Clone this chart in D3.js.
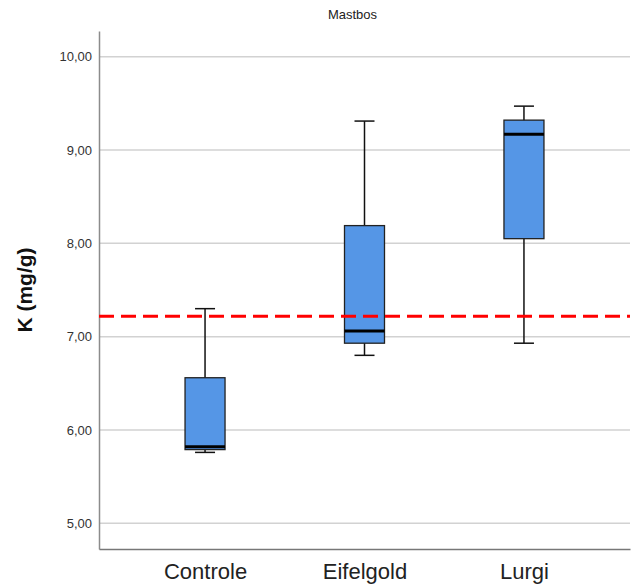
<!DOCTYPE html>
<html>
<head>
<meta charset="utf-8">
<script src="https://cdn.jsdelivr.net/npm/d3@7"></script>
<style>
  body { margin: 0; background: #fff; }
  text { font-family: "Liberation Sans", Arial, sans-serif; }
</style>
</head>
<body>
<div id="canvas"></div>
<script>
// data
const groups = ["Controle", "Eifelgold", "Lurgi"];
const mins    = [5.76, 6.80, 6.93];
const q1s     = [5.79, 6.93, 8.05];
const medians = [5.82, 7.06, 9.17];
const q3s     = [6.56, 8.19, 9.32];
const maxs    = [7.30, 9.31, 9.47];
const yTicks = [5, 6, 7, 8, 9, 10];
const refLine = 7.22;

const margin = { top: 31, right: 3, bottom: 35, left: 99 },
    width = 633 - margin.left - margin.right,
    height = 584 - margin.top - margin.bottom;

const svg = d3.select("#canvas")
    .append("svg")
    .attr("width", width + margin.left + margin.right)
    .attr("height", height + margin.top + margin.bottom)
    .append("g")
    .attr("transform", `translate(${margin.left},${margin.top})`);

const x = d3.scalePoint()
    .domain(groups)
    .range([0, width])
    .padding(0.665);

const y = d3.scaleLinear()
    .domain([4.725, 10.275])
    .range([height, 0]);

const fmt = d => d3.format(".2f")(d).replace(".", ",");

// gridlines
svg.append("g")
    .selectAll("line")
    .data(yTicks)
    .enter()
    .append("line")
    .attr("x1", 0)
    .attr("x2", width)
    .attr("y1", d => y(d))
    .attr("y2", d => y(d))
    .attr("stroke", "#d2d2d2")
    .attr("stroke-width", 1.5);

// y axis
const yAxis = svg.append("g")
    .call(d3.axisLeft(y).tickValues(yTicks).tickFormat(fmt).tickSize(0).tickPadding(7));
yAxis.select(".domain").attr("stroke", "#8c8c8c").attr("stroke-width", 1.5);
yAxis.selectAll("text").attr("font-size", 13).attr("fill", "#333");

// x axis
const xAxis = svg.append("g")
    .attr("transform", `translate(0,${height})`)
    .call(d3.axisBottom(x).tickSize(0).tickPadding(14));
xAxis.select(".domain").attr("stroke", "#777").attr("stroke-width", 1.5);
xAxis.selectAll("text").attr("font-size", 22).attr("fill", "#222");

// boxes
const data = groups.map((g, i) => ({
    g: g, min: mins[i], q1: q1s[i], med: medians[i], q3: q3s[i], max: maxs[i]
}));
const bw = 40, cap = 20;

const box = svg.append("g")
    .selectAll("g")
    .data(data)
    .enter()
    .append("g")
    .attr("transform", d => `translate(${x(d.g)},0)`);

box.append("line")
    .attr("x1", 0).attr("x2", 0)
    .attr("y1", d => y(d.max)).attr("y2", d => y(d.min))
    .attr("stroke", "#111").attr("stroke-width", 1.5);
box.append("line")
    .attr("x1", -cap / 2).attr("x2", cap / 2)
    .attr("y1", d => y(d.max)).attr("y2", d => y(d.max))
    .attr("stroke", "#111").attr("stroke-width", 1.5);
box.append("line")
    .attr("x1", -cap / 2).attr("x2", cap / 2)
    .attr("y1", d => y(d.min)).attr("y2", d => y(d.min))
    .attr("stroke", "#111").attr("stroke-width", 1.5);
box.append("rect")
    .attr("x", -bw / 2)
    .attr("width", bw)
    .attr("y", d => y(d.q3))
    .attr("height", d => y(d.q1) - y(d.q3))
    .attr("fill", "#5596e6")
    .attr("stroke", "#222")
    .attr("stroke-width", 1.3);
box.append("line")
    .attr("x1", -bw / 2).attr("x2", bw / 2)
    .attr("y1", d => y(d.med)).attr("y2", d => y(d.med))
    .attr("stroke", "#000").attr("stroke-width", 3);

// reference line
svg.append("line")
    .attr("x1", 0).attr("x2", width)
    .attr("y1", y(refLine)).attr("y2", y(refLine))
    .attr("stroke", "#ff0000")
    .attr("stroke-width", 3)
    .attr("stroke-dasharray", "15,7");

// title
svg.append("text")
    .attr("x", width / 2 - 12)
    .attr("y", -12)
    .attr("text-anchor", "middle")
    .attr("font-size", 13)
    .attr("fill", "#222")
    .text("Mastbos");

// y label
svg.append("text")
    .attr("transform", `translate(${-67},${height / 2}) rotate(-90)`)
    .attr("text-anchor", "middle")
    .attr("font-size", 21)
    .attr("font-weight", "bold")
    .attr("fill", "#111")
    .text("K (mg/g)");
</script>
</body>
</html>
